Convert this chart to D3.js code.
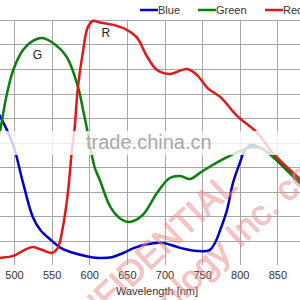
<!DOCTYPE html>
<html><head><meta charset="utf-8">
<script src="https://cdn.jsdelivr.net/npm/d3@7"></script>
<style>html,body{margin:0;padding:0;background:#fff;overflow:hidden}svg{display:block;font-family:"Liberation Sans",Arial,sans-serif}</style>
</head><body>
<svg id="c" width="300" height="300"></svg>
<script>
const xTicks = [500, 550, 600, 650, 700, 750, 800, 850, 900];
const yTicks = [0, 10, 20, 30, 40, 50, 60, 70, 80, 90, 100];
const seriesNames = ["Blue", "Green", "Red"];
const seriesColors = ["#0000c8", "#0a7f0a", "#e01818"];
const blueWl  = [465, 481, 490, 500, 512, 525, 535, 549, 562, 575, 601, 614, 630, 645, 660, 675, 698, 721, 743, 760, 767, 774, 783, 791, 800, 807, 815, 830, 843, 880, 905];
const blueVal = [70, 61, 55.5, 48, 33.5, 19.6, 14.3, 10.2, 7, 5.3, 3.3, 2.9, 3.2, 4.9, 7, 8.4, 9, 7, 5.7, 6.1, 9, 14.3, 22.4, 33.5, 41.6, 47, 49, 47.5, 44.5, 33.5, 26];
const greenWl  = [470, 481, 490, 499, 512, 525, 537, 550, 570, 585, 592, 598, 607, 614, 628, 641, 654, 671, 690, 707, 721, 734, 747, 764, 783, 800, 815, 830, 843, 880, 905];
const greenVal = [40, 54, 69, 79.6, 87.8, 91.5, 92.7, 91, 84.9, 72.7, 63, 54, 40, 34.7, 23.7, 19, 17.6, 20.4, 29.4, 35.5, 36.3, 35.1, 37.6, 40.8, 44, 46.5, 48, 47.5, 44.5, 33.5, 26];
const redWl  = [465, 481, 499, 513, 525, 537, 550, 558, 565, 572, 577, 580, 585, 592, 598, 605, 614, 632, 650, 663, 677, 690, 707, 730, 743, 758, 774, 796, 823, 843, 880, 905];
const redVal = [2.5, 2.9, 3.7, 6, 7.3, 6.2, 4.9, 6.9, 15.5, 30.6, 47, 54, 72.7, 87.8, 97, 99.6, 99, 98, 96, 93, 85, 79.6, 78, 80, 77.6, 72, 68.6, 61, 54, 46, 35, 28];
const curveLabels = [{t: "G", wl: 531, v: 84}, {t: "R", wl: 622, v: 93}];
const xTitle = "Wavelength [nm]";

const svg = d3.select("#c");
const x = d3.scaleLinear().domain([500, 850]).range([14, 277.4]);
const y = d3.scaleLinear().domain([0, 100]).range([265, 20]);

// grid
const grid = svg.append("g").attr("stroke", "#a6a6a6").attr("stroke-width", 1);
grid.selectAll("line.v").data(xTicks).join("line").attr("class", "v")
  .attr("x1", d => Math.round(x(d)) + 0.5).attr("x2", d => Math.round(x(d)) + 0.5)
  .attr("y1", y(100)).attr("y2", y(0));
grid.selectAll("line.h").data(yTicks.filter(d => d > 0)).join("line").attr("class", "h")
  .attr("x1", 0).attr("x2", 300)
  .attr("y1", d => Math.round(y(d)) + 0.5).attr("y2", d => Math.round(y(d)) + 0.5);

// x-axis labels
const xAxis = d3.axisBottom(x).tickValues(xTicks).tickSize(0).tickPadding(6);
const gx = svg.append("g").attr("transform", `translate(0,${y(0)})`).call(xAxis);
gx.select(".domain").remove();
gx.selectAll("text").attr("font-size", 11).attr("fill", "#333").attr("font-family", "Liberation Sans, Arial, sans-serif");
svg.append("text").attr("x", 157).attr("y", 295).attr("text-anchor", "middle")
  .attr("font-size", 11).attr("fill", "#333").text(xTitle);

// curves
const line = d3.line().x(d => x(d[0])).y(d => y(d[1])).curve(d3.curveCatmullRom.alpha(0.5));
const series = [d3.zip(blueWl, blueVal), d3.zip(greenWl, greenVal), d3.zip(redWl, redVal)];
svg.append("clipPath").attr("id", "pc").append("rect").attr("x", 0).attr("y", 0).attr("width", 300).attr("height", 266);
const cg = svg.append("g").attr("clip-path", "url(#pc)");
cg.selectAll("path").data(series).join("path")
  .attr("d", line).attr("fill", "none")
  .attr("stroke", (d, i) => seriesColors[i]).attr("stroke-width", 2.5);

// curve labels
svg.selectAll("text.cl").data(curveLabels).join("text").attr("class", "cl")
  .attr("x", d => x(d.wl)).attr("y", d => y(d.v)).attr("text-anchor", "middle")
  .attr("font-size", 12).attr("fill", "#222").text(d => d.t);

// legend
const legX = [140, 198, 265];
const lg = svg.append("g");
seriesNames.forEach((n, i) => {
  lg.append("line").attr("x1", legX[i]).attr("x2", legX[i] + 18).attr("y1", 10).attr("y2", 10)
    .attr("stroke", seriesColors[i]).attr("stroke-width", 2.5);
  lg.append("text").attr("x", legX[i] + 18).attr("y", 14).attr("font-size", 11).attr("fill", "#333").text(n);
});

// white watermark band
svg.append("rect").attr("x", 0).attr("y", 131).attr("width", 300).attr("height", 24)
  .attr("fill", "#fff").attr("opacity", 0.8);
svg.append("text").attr("x", 86).attr("y", 149).attr("font-size", 20).attr("fill", "#a8a8a8").text("trade.china.cn");

// red diagonal watermark
const wm = svg.append("g").attr("fill", "#f29a9a").attr("opacity", 0.55).attr("font-size", 35)
  .attr("stroke", "#e86a6a").attr("stroke-width", 0.6);
wm.append("text").attr("transform", "translate(51,363) rotate(-43)").text("CONFIDENTIAL");
wm.append("text").attr("transform", "translate(103,376) rotate(-43)").text("Technology Inc. co");
</script>
</body></html>
